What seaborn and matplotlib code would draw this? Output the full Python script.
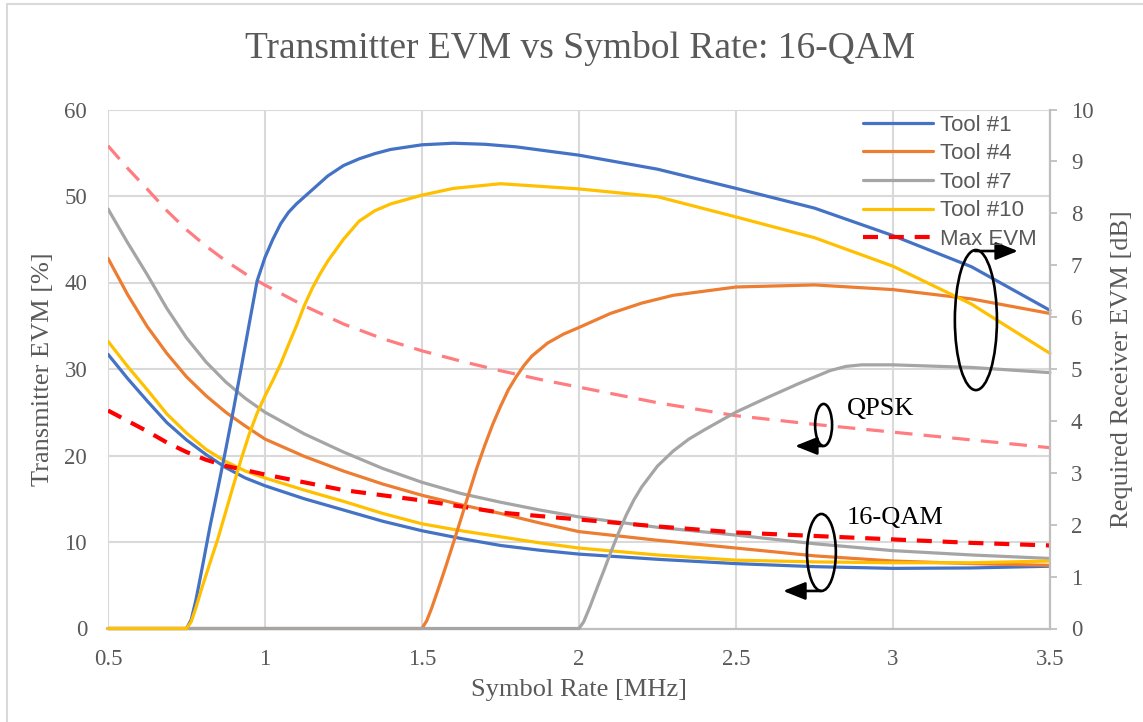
import matplotlib
matplotlib.use("Agg")
import matplotlib.pyplot as plt
import seaborn as sns
from matplotlib.patches import Ellipse, Rectangle

# ---- data -------------------------------------------------------------
# Transmitter EVM [%] versus symbol rate [MHz] (left axis)
rate_tx = [0.5, 0.5625, 0.625, 0.6875, 0.75, 0.8125, 0.875, 0.9375, 1.0, 1.125, 1.25,
           1.375, 1.5, 1.625, 1.75, 1.875, 2.0, 2.25, 2.5, 2.75, 3.0, 3.25, 3.5]
tx_tool1 = [31.7, 28.9, 26.3, 23.8, 21.8, 20.1, 18.6, 17.4, 16.5, 15.0, 13.7,
            12.4, 11.3, 10.4, 9.6, 9.05, 8.6, 8.0, 7.5, 7.15, 6.95, 7.0, 7.2]
tx_tool4 = [42.8, 38.6, 34.9, 31.8, 29.1, 26.9, 25.0, 23.4, 21.9, 19.9, 18.2,
            16.7, 15.4, 14.3, 13.3, 12.2, 11.2, 10.2, 9.3, 8.4, 7.8, 7.5, 7.3]
tx_tool7 = [48.5, 44.6, 40.9, 37.0, 33.6, 30.8, 28.5, 26.6, 25.0, 22.5, 20.4,
            18.5, 16.9, 15.6, 14.6, 13.7, 12.9, 11.7, 10.8, 9.8, 9.0, 8.5, 8.1]
tx_tool10 = [33.2, 30.3, 27.6, 24.8, 22.6, 20.7, 19.3, 18.2, 17.4, 16.0, 14.7,
             13.3, 12.1, 11.3, 10.6, 9.9, 9.3, 8.5, 7.9, 7.7, 7.6, 7.6, 7.8]
max_evm_16qam = [25.2, 24.0, 22.8, 21.5, 20.4, 19.5, 18.8, 18.3, 17.8, 16.9, 16.0,
                 15.4, 14.8, 14.1, 13.4, 13.0, 12.6, 11.8, 11.1, 10.7, 10.3, 9.9, 9.6]
max_evm_qpsk = [55.8, 53.2, 50.8, 48.3, 46.1, 44.2, 42.5, 41.0, 39.7, 37.3, 35.2,
                33.5, 32.1, 30.9, 29.8, 28.8, 27.9, 26.1, 24.6, 23.6, 22.7, 21.8, 20.9]

# Required receiver EVM [dB] versus symbol rate [MHz] (right axis)
rate_rx1 = [0.5, 0.75, 0.765, 0.78, 0.8, 0.825, 0.85, 0.875, 0.9, 0.925, 0.95, 0.975,
            1.0, 1.025, 1.05, 1.075, 1.1, 1.15, 1.2, 1.25, 1.3, 1.35, 1.4, 1.5, 1.6,
            1.7, 1.8, 1.9, 2.0, 2.25, 2.5, 2.75, 3.0, 3.25, 3.5]
rx_tool1 = [0, 0, 0.17, 0.55, 1.17, 1.97, 2.7, 3.45, 4.23, 5.05, 5.88, 6.7,
            7.15, 7.5, 7.8, 8.02, 8.18, 8.45, 8.72, 8.92, 9.05, 9.15, 9.23, 9.32, 9.35,
            9.33, 9.28, 9.2, 9.12, 8.85, 8.48, 8.1, 7.57, 6.97, 6.13]
rate_rx4 = [0.5, 1.5, 1.515, 1.53, 1.55, 1.575, 1.6, 1.625, 1.65, 1.675, 1.7, 1.725,
            1.75, 1.775, 1.8, 1.825, 1.85, 1.9, 1.95, 2.0, 2.1, 2.2, 2.3, 2.5, 2.75,
            3.0, 3.25, 3.5]
rx_tool4 = [0, 0, 0.15, 0.38, 0.73, 1.18, 1.65, 2.13, 2.62, 3.1, 3.53, 3.93,
            4.28, 4.6, 4.85, 5.07, 5.25, 5.5, 5.67, 5.8, 6.07, 6.27, 6.42, 6.58, 6.62,
            6.53, 6.35, 6.07]
rate_rx7 = [0.5, 2.0, 2.015, 2.035, 2.06, 2.08, 2.1, 2.125, 2.15, 2.175, 2.2, 2.25,
            2.3, 2.35, 2.4, 2.5, 2.6, 2.7, 2.8, 2.85, 2.9, 3.0, 3.25, 3.5]
rx_tool7 = [0, 0, 0.13, 0.42, 0.82, 1.13, 1.45, 1.83, 2.18, 2.48, 2.73, 3.13,
            3.42, 3.65, 3.83, 4.17, 4.45, 4.72, 4.97, 5.05, 5.08, 5.08, 5.03, 4.93]
rate_rx10 = [0.5, 0.75, 0.765, 0.78, 0.8, 0.825, 0.85, 0.875, 0.9, 0.925, 0.95, 0.975,
             1.0, 1.025, 1.05, 1.075, 1.1, 1.125, 1.15, 1.175, 1.2, 1.25, 1.3, 1.35,
             1.4, 1.5, 1.6, 1.75, 2.0, 2.25, 2.5, 2.75, 3.0, 3.25, 3.5]
rx_tool10 = [0, 0, 0.13, 0.4, 0.8, 1.27, 1.73, 2.25, 2.77, 3.28, 3.75, 4.15,
             4.48, 4.78, 5.1, 5.47, 5.83, 6.22, 6.55, 6.83, 7.08, 7.5, 7.85, 8.05,
             8.18, 8.35, 8.48, 8.57, 8.47, 8.32, 7.93, 7.53, 6.98, 6.25, 5.3]

tool_names = ["Tool #1", "Tool #4", "Tool #7", "Tool #10"]
tool_colors = ["#4472C4", "#ED7D31", "#A5A5A5", "#FFC000"]
x_ticks = [0.5, 1, 1.5, 2, 2.5, 3, 3.5]
x_ticklabels = ["0.5", "1", "1.5", "2", "2.5", "3", "3.5"]

# ---- style -------------------------------------------------------------
sns.set_theme(style="white")
plt.rcParams["font.family"] = ["Liberation Serif", "DejaVu Serif"]
plt.rcParams["lines.solid_joinstyle"] = "round"
plt.rcParams["lines.dash_joinstyle"] = "round"
TEXT = "#595959"
GRID = "#d9d9d9"
AXIS = "#bfbfbf"

fig = plt.figure(figsize=(11.43, 7.22), dpi=100)
ax = fig.add_axes([108 / 1143, 1 - 628.5 / 722, 942 / 1143, 519 / 722])
ax2 = ax.twinx()

LW = 2.3

# transmitter EVM curves (left axis)
for vals, col in zip([tx_tool1, tx_tool4, tx_tool7, tx_tool10], tool_colors):
    sns.lineplot(x=rate_tx, y=vals, ax=ax, color=col, lw=LW, legend=False)
sns.lineplot(x=rate_tx, y=max_evm_qpsk, ax=ax, color="#FF7C80", lw=LW,
             linestyle=(0, (5.5, 3.5)), legend=False)
sns.lineplot(x=rate_tx, y=max_evm_16qam, ax=ax, color="#FF0000", lw=3.0,
             linestyle=(0, (3.6, 2.6)), legend=False)

# required receiver EVM curves (right axis)
rx_sets = [(rate_rx1, rx_tool1), (rate_rx4, rx_tool4), (rate_rx7, rx_tool7), (rate_rx10, rx_tool10)]
for (xs, ys), col, name in zip(rx_sets, tool_colors, tool_names):
    sns.lineplot(x=xs, y=ys, ax=ax2, color=col, lw=LW, label=name, clip_on=False)

# ---- axes --------------------------------------------------------------
ax.set_xlim(0.5, 3.5)
ax.set_ylim(0, 60)
ax2.set_ylim(0, 10)
ax.set_xticks(x_ticks)
ax.set_xticklabels(x_ticklabels)
ax.set_yticks(range(0, 61, 10))
ax2.set_yticks(range(0, 11))

ax.grid(True, color=GRID, lw=1.5)
ax.set_axisbelow(True)
ax2.grid(False)
for side in ["left", "top", "right"]:
    ax.spines[side].set_visible(False)
ax.spines["bottom"].set_color(AXIS)
ax.spines["bottom"].set_linewidth(1.6)
for side in ["left", "top", "bottom"]:
    ax2.spines[side].set_visible(False)
ax2.spines["right"].set_color(AXIS)
ax2.spines["right"].set_linewidth(1.6)

ax.tick_params(axis="both", length=0, labelsize=16.5, labelcolor=TEXT)
ax.tick_params(axis="y", pad=15)
ax.tick_params(axis="x", pad=15)
ax2.tick_params(axis="y", right=True, length=5, width=1.3, color=AXIS,
                labelsize=16.5, labelcolor=TEXT, pad=10)

ax.set_xlabel("Symbol Rate [MHz]", fontsize=19, color=TEXT, va="center")
ax.xaxis.set_label_coords(0.5, (628.5 - 690) / 519)
ax.set_ylabel("Transmitter EVM [%]", fontsize=19, color=TEXT, va="center")
ax.yaxis.set_label_coords((43 - 108) / 942, 0.5)
ax2.set_ylabel("Required Receiver EVM [dB]", fontsize=19, color=TEXT, va="center",
               rotation=90)
ax2.yaxis.set_label_coords((1122 - 108) / 942, 0.5)

fig.text(580 / 1143, 1 - 48 / 722, "Transmitter EVM vs Symbol Rate: 16-QAM",
         fontsize=27, color=TEXT, ha="center", va="center")

# ---- legend ------------------------------------------------------------
handles, labels = ax2.get_legend_handles_labels()
red_line = ax.get_lines()[-1]
handles.append(red_line)
labels.append("Max EVM")
ax2.legend(handles, labels, loc="upper left", bbox_to_anchor=(0.8015, 0.99),
           frameon=False, borderpad=0, borderaxespad=0, handlelength=3.15,
           handletextpad=0.32, labelspacing=0.34,
           prop={"family": "Liberation Sans", "size": 16}, labelcolor=TEXT)

# ---- annotations (positions given in percent units of the left axis) -------
def ellipse(cx, cy, w, h):
    ax2.add_patch(Ellipse((cx, cy / 6), w, h / 6, fill=False,
                          ec="black", lw=1.9, zorder=5))

def arrow(x0, x1, y):
    ax2.annotate("", xy=(x1, y / 6), xytext=(x0, y / 6),
                 arrowprops=dict(arrowstyle="-|>,head_length=0.75,head_width=0.3",
                                 lw=1.9, color="black", shrinkA=0, shrinkB=0,
                                 mutation_scale=18), zorder=5)

ellipse(3.264, 35.66, 0.134, 16.2)
arrow(3.261, 3.398, 43.64)
ellipse(2.779, 23.53, 0.054, 4.86)
arrow(2.777, 2.688, 21.1)
ellipse(2.772, 8.79, 0.092, 8.9)
arrow(2.771, 2.65, 4.34)

ax2.text(2.853, 25.4 / 6, "QPSK", fontsize=19, color="black", va="center", ha="left")
ax2.text(2.853, 12.78 / 6, "16-QAM", fontsize=19, color="black", va="center", ha="left")

# chart area frame
fig.add_artist(Rectangle((7 / 1143, -0.05), 1.2, 1.05 - 4 / 722, transform=fig.transFigure,
                         fill=False, ec=GRID, lw=1.5))

fig.savefig("out.png", dpi=100, facecolor="white")
